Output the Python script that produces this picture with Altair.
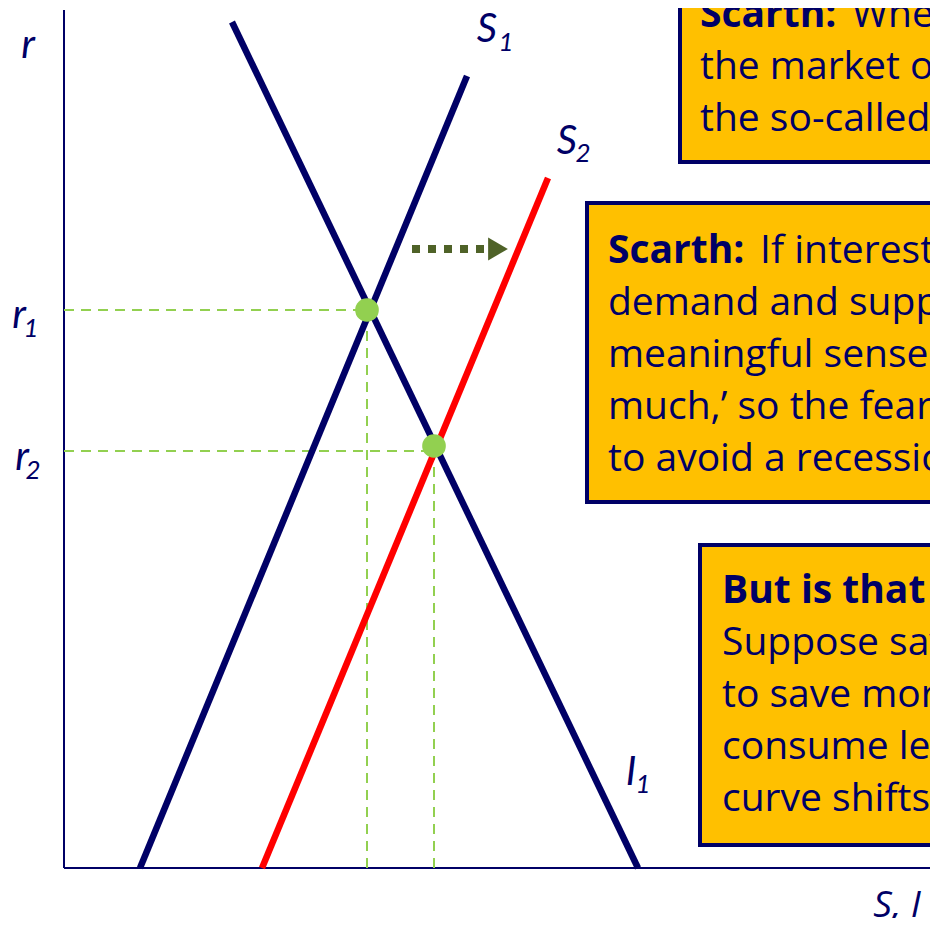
import altair as alt
import pandas as pd

# ---- data (coordinates in chart units: q = quantity S/I, r = interest rate) ----
curve_names = ["I1", "S1", "S2"]
curve_q0 = [168, 76, 198]
curve_r0 = [846, 0, 0]
curve_q1 = [574, 403, 484]
curve_r1 = [0, 792, 690]
curve_colors = ["#000066", "#000066", "#FF0000"]

axis_q0 = [0, 0]
axis_r0 = [0, 0]
axis_q1 = [0, 900]
axis_r1 = [858, 0]

r_levels = [558, 417]          # r1, r2
eq_q = [303, 370]              # equilibrium S,I at r1, r2
dot_q = [303, 370]
dot_r = [558, 422]

arrow_q = [348, 421]
arrow_r = 619
arrow_head_q = 434

box_left = [616, 523, 636]
box_right = [900, 900, 900]
box_bottom = [706, 366, 23]
box_top = [900, 665, 323]

box_lines = [
    [("Scarth:", "When interest rates are set by"), ("", "the market only, we can encounter"), ("", "the so-called paradox of thrift.")],
    [("Scarth:", "If interest rates adjust so that"), ("", "demand and supply balance, there is no"), ("", "meaningful sense of saving ‘too"), ("", "much,’ so the fear that we need"), ("", "to avoid a recession is unfounded.")],
    [("But is that so?", ""), ("", "Suppose savers decide"), ("", "to save more and"), ("", "consume less: the S"), ("", "curve shifts right.")],
]
box_text_q = [636, 544, 658]
box_reg_q = [788, 696, 0]
box_first_baseline = [841, 605, 265]
line_step = 52

labels = [  # text, q, r, size, font
    ("r", -36, 822, 40, "Lato"), ("r", -45, 552, 40, "Lato"), ("1", -33, 539, 26, "Lato"),
    ("r", -42, 410, 40, "Lato"), ("2", -31, 397, 26, "Lato"),
    ("S", 423, 838, 40, "Lato"), ("1", 442, 825, 26, "Lato"),
    ("S", 503, 726, 40, "Lato"), ("2", 519, 714, 26, "Lato"),
    ("I", 567, 95, 40, "Lato"), ("1", 579, 83, 26, "Lato"),
    ("S, I", 833, -38, 37, "Open Sans"),
]

# ---- scales ----
XS = alt.Scale(domain=[-56, 866], nice=False, zero=False)
YS = alt.Scale(domain=[-50, 860], nice=False, zero=False)
BOX_FONT = "Open Sans"
BOX_SIZE = 39


def X(f):
    return alt.X(f, type="quantitative", scale=XS, axis=None)


def Y(f):
    return alt.Y(f, type="quantitative", scale=YS, axis=None)


layers = []

# boxes
boxes = pd.DataFrame({"x": box_left, "x2": box_right, "y": box_bottom, "y2": box_top})
layers.append(
    alt.Chart(boxes).mark_rect(fill="#FFC000", stroke="#000066", strokeWidth=4, clip=True)
    .encode(x=X("x"), x2="x2", y=Y("y"), y2="y2")
)

bold_rows, reg_rows = [], []
for i, lines in enumerate(box_lines):
    for j, (b, t) in enumerate(lines):
        rr = box_first_baseline[i] - j * line_step
        if b:
            bold_rows.append({"q": box_text_q[i], "r": rr, "t": b})
        if t:
            q = box_reg_q[i] if b else box_text_q[i]
            reg_rows.append({"q": q, "r": rr, "t": t})

layers.append(
    alt.Chart(pd.DataFrame(bold_rows)).mark_text(
        align="left", baseline="alphabetic", font=BOX_FONT, fontSize=BOX_SIZE, fontWeight="bold",
        color="#000066", clip=True)
    .encode(x=X("q"), y=Y("r"), text="t:N")
)
layers.append(
    alt.Chart(pd.DataFrame(reg_rows)).mark_text(
        align="left", baseline="alphabetic", font=BOX_FONT, fontSize=BOX_SIZE,
        color="#000066", clip=True)
    .encode(x=X("q"), y=Y("r"), text="t:N")
)

# axes
axes = pd.DataFrame({"q": axis_q0, "r": axis_r0, "q2": axis_q1, "r2": axis_r1})
layers.append(
    alt.Chart(axes).mark_rule(color="#000066", strokeWidth=2, clip=True)
    .encode(x=X("q"), y=Y("r"), x2="q2", y2="r2")
)

# dashed guides
guides = pd.DataFrame({
    "q": [0, 0, eq_q[0], eq_q[1]],
    "r": [r_levels[0], r_levels[1], 0, 0],
    "q2": [eq_q[0], eq_q[1], eq_q[0], eq_q[1]],
    "r2": [r_levels[0], r_levels[1], r_levels[0], r_levels[1]],
})
layers.append(
    alt.Chart(guides).mark_rule(color="#92D050", strokeWidth=2, strokeDash=[10, 7])
    .encode(x=X("q"), y=Y("r"), x2="q2", y2="r2")
)

# curves
curves = pd.DataFrame({"name": curve_names, "q": curve_q0, "r": curve_r0,
                       "q2": curve_q1, "r2": curve_r1})
layers.append(
    alt.Chart(curves).mark_rule(strokeWidth=6.5, strokeCap="butt")
    .encode(x=X("q"), y=Y("r"), x2="q2", y2="r2",
            color=alt.Color("name:N", scale=alt.Scale(domain=curve_names, range=curve_colors), legend=None))
)

# arrow
arr = pd.DataFrame({"q": [arrow_q[0]], "r": [arrow_r], "q2": [arrow_q[1]], "r2": [arrow_r]})
layers.append(
    alt.Chart(arr).mark_rule(color="#4F6228", strokeWidth=8, strokeDash=[8, 8], strokeCap="butt")
    .encode(x=X("q"), y=Y("r"), x2="q2", y2="r2")
)
layers.append(
    alt.Chart(pd.DataFrame({"q": [arrow_head_q], "r": [arrow_r]})).mark_point(
        shape="triangle-right", filled=True, color="#4F6228", size=520, opacity=1)
    .encode(x=X("q"), y=Y("r"))
)

# dots
dots = pd.DataFrame({"q": dot_q, "r": dot_r})
layers.append(
    alt.Chart(dots).mark_circle(color="#92D050", size=560, opacity=1)
    .encode(x=X("q"), y=Y("r"))
)

# labels
lab = pd.DataFrame(labels, columns=["t", "q", "r", "s", "f"])
for (sz, fnt), sub in lab.groupby(["s", "f"]):
    layers.append(
        alt.Chart(sub).mark_text(font=fnt, fontStyle="italic", fontSize=int(sz),
                                 color="#000066", align="center", baseline="middle")
        .encode(x=X("q"), y=Y("r"), text="t:N")
    )

chart = alt.layer(*layers).properties(
    width=922, height=910, padding=0, autosize=alt.AutoSizeParams(type="none")
).configure_view(stroke=None)

chart.save("out.html", embed_options={"renderer": "svg", "actions": False})
